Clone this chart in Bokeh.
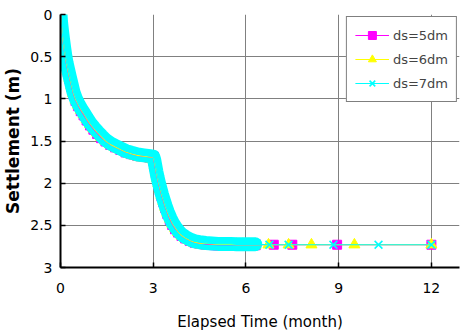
from bokeh.plotting import figure
from bokeh.models import Range1d, FixedTicker, NumeralTickFormatter
from bokeh.embed import file_html
from bokeh.resources import INLINE

# ---- data ----
x_ticks = [0, 3, 6, 9, 12]
y_ticks = [0, 0.5, 1, 1.5, 2, 2.5, 3]

t_dense = [0, 0.02, 0.05, 0.08, 0.12, 0.16, 0.2, 0.25, 0.3, 0.36, 0.42, 0.5, 0.58, 0.67,
           0.76, 0.86, 0.97, 1.08, 1.2, 1.33, 1.47, 1.62, 1.78, 1.95, 2.12, 2.3, 2.5, 2.7,
           2.9, 3.0, 3.03, 3.06, 3.1, 3.14, 3.18, 3.23, 3.28, 3.34, 3.4, 3.47, 3.55, 3.63,
           3.72, 3.82, 3.93, 4.05, 4.2, 4.35, 4.5, 4.7, 4.9, 5.1, 5.3, 5.5, 5.7, 5.9, 6.1, 6.3]

s_7dm_dense = [0, 0.1, 0.2, 0.29, 0.4, 0.5, 0.58, 0.66, 0.74, 0.83, 0.92, 1.0, 1.06, 1.12,
               1.17, 1.23, 1.29, 1.34, 1.39, 1.44, 1.49, 1.53, 1.56, 1.59, 1.62, 1.64, 1.66, 1.67,
               1.68, 1.685, 1.72, 1.78, 1.86, 1.93, 1.99, 2.06, 2.13, 2.2, 2.27, 2.34, 2.41, 2.47,
               2.52, 2.57, 2.61, 2.64, 2.67, 2.69, 2.7, 2.71, 2.715, 2.72, 2.72, 2.72, 2.725, 2.725, 2.725, 2.725]
s_6dm_dense = [0, 0.1, 0.21, 0.3, 0.41, 0.51, 0.59, 0.67, 0.75, 0.84, 0.93, 1.01, 1.07, 1.13,
               1.18, 1.24, 1.3, 1.35, 1.4, 1.45, 1.5, 1.54, 1.57, 1.6, 1.63, 1.65, 1.67, 1.68,
               1.69, 1.69, 1.73, 1.79, 1.87, 1.94, 2.0, 2.07, 2.14, 2.21, 2.28, 2.35, 2.42, 2.48,
               2.53, 2.58, 2.62, 2.65, 2.68, 2.7, 2.71, 2.715, 2.72, 2.725, 2.725, 2.725, 2.73, 2.73, 2.73, 2.73]
s_5dm_dense = [0, 0.11, 0.21, 0.31, 0.42, 0.52, 0.6, 0.68, 0.76, 0.85, 0.94, 1.02, 1.08, 1.14,
               1.19, 1.25, 1.31, 1.36, 1.41, 1.46, 1.5, 1.54, 1.57, 1.6, 1.63, 1.65, 1.67, 1.68,
               1.69, 1.69, 1.74, 1.8, 1.88, 1.95, 2.01, 2.08, 2.15, 2.22, 2.29, 2.36, 2.43, 2.49,
               2.54, 2.58, 2.62, 2.65, 2.68, 2.7, 2.71, 2.72, 2.725, 2.73, 2.73, 2.73, 2.73, 2.73, 2.73, 2.73]

t_5dm_tail = [6.9, 7.5, 8.95, 12.0]
s_5dm_tail = [2.73, 2.73, 2.73, 2.73]
t_6dm_tail = [6.73, 7.38, 8.12, 9.51, 12.0]
s_6dm_tail = [2.73, 2.73, 2.73, 2.73, 2.73]
t_7dm_tail = [6.76, 7.38, 8.83, 10.29, 12.0]
s_7dm_tail = [2.73, 2.73, 2.73, 2.73, 2.73]

labels = ["ds=5dm", "ds=6dm", "ds=7dm"]
colors = ["#FF00FF", "#FFFF00", "#00FFFF"]

FONT = "DejaVu Sans"

p = figure(frame_width=399, frame_height=253, output_backend="svg", toolbar_location=None,
           x_range=Range1d(0, 12.91), y_range=Range1d(3, 0),
           min_border_left=52, min_border_top=14, min_border_right=1, min_border_bottom=60)
p.outline_line_color = None
p.background_fill_color = "white"

dense = [(s_5dm_dense, "square", 10), (s_6dm_dense, "triangle", 12), (s_7dm_dense, "x", 12)]
tails = [(t_5dm_tail, s_5dm_tail), (t_6dm_tail, s_6dm_tail), (t_7dm_tail, s_7dm_tail)]
band_widths = [12, 12, 14]

# thick band formed by the densely packed markers of the computed curves
for (sd, mk, sz), col, bw in zip(dense, colors, band_widths):
    p.line(t_dense, sd, line_color=col, line_width=bw, line_join="round", line_cap="round")
    if mk == "x":
        p.scatter(t_dense, sd, marker=mk, size=sz, line_color=col, line_width=1.6)
    else:
        p.scatter(t_dense, sd, marker=mk, size=sz, fill_color=col, line_color=col)

for (sd, mk, sz), (tt, st), lab, col in zip(dense, tails, labels, colors):
    tx = t_dense + tt
    sy = sd + st
    p.line(tx, sy, line_color=col, line_width=1.2, legend_label=lab)
    if mk == "x":
        p.scatter(tt, st, marker=mk, size=11, line_color=col, line_width=1.6, legend_label=lab)
    else:
        p.scatter(tt, st, marker=mk, size=sz - 1, fill_color=col, line_color=col, legend_label=lab)

# axes
for ax in (p.xaxis[0], p.yaxis[0]):
    ax.axis_line_color = "black"
    ax.axis_line_width = 2
    ax.major_tick_in = 5
    ax.major_tick_out = 0
    ax.major_tick_line_color = "black"
    ax.major_tick_line_width = 1.5
    ax.minor_tick_line_color = None
    ax.major_label_text_font = FONT
    ax.major_label_text_font_size = "14px"
    ax.major_label_text_color = "black"
    ax.axis_label_text_color = "black"
    ax.axis_label_text_font = FONT

p.xaxis.ticker = FixedTicker(ticks=x_ticks)
p.yaxis.ticker = FixedTicker(ticks=y_ticks)
p.yaxis.formatter = NumeralTickFormatter(format="0.[0]")
p.xaxis.major_label_standoff = 15
p.yaxis.major_label_standoff = 8

p.xaxis.axis_label = "Elapsed Time (month)"
p.xaxis.axis_label_text_font_size = "15px"
p.xaxis.axis_label_text_font_style = "normal"
p.xaxis.axis_label_standoff = 17

p.yaxis.axis_label = "Settlement (m)"
p.yaxis.axis_label_text_font_size = "17px"
p.yaxis.axis_label_text_font_style = "bold"
p.yaxis.axis_label_standoff = 4

p.xgrid.ticker = FixedTicker(ticks=x_ticks)
p.ygrid.ticker = FixedTicker(ticks=y_ticks)
p.grid.grid_line_color = "#808080"
p.grid.grid_line_width = 1

lg = p.legend[0]
lg.location = "top_right"
lg.margin = 2
lg.padding = 8
lg.spacing = 4
lg.glyph_width = 34
lg.glyph_height = 20
lg.label_height = 20
lg.label_standoff = 4
lg.label_text_font = FONT
lg.label_text_font_size = "13px"
lg.border_line_color = "black"
lg.border_line_width = 1
lg.background_fill_color = "white"
lg.background_fill_alpha = 1

open("out.html", "w").write(file_html(p, INLINE))
